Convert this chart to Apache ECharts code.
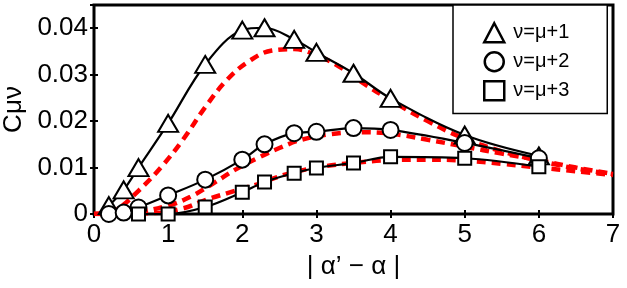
<!DOCTYPE html>
<html>
<head>
<meta charset="utf-8">
<script src="https://cdn.jsdelivr.net/npm/echarts@6/dist/echarts.min.js"></script>
<style>html,body{margin:0;padding:0;background:#fff}#c{width:627px;height:288px}</style>
</head>
<body>
<div id="c"></div>
<script>
// measured points
const xMeas1 = [0.2, 0.4, 0.6, 1.0, 1.5, 2.0, 2.3, 2.7, 3.0, 3.5, 4.0, 5.0, 6.0];
const yMeas1 = [0.0018, 0.0052, 0.0100, 0.0195, 0.0322, 0.0396, 0.0401, 0.0376, 0.0348, 0.0303, 0.0249, 0.0170, 0.0125];
const xMeas2 = [0.2, 0.4, 0.6, 1.0, 1.5, 2.0, 2.3, 2.7, 3.0, 3.5, 4.0, 5.0, 6.0];
const yMeas2 = [0.0000, 0.0003, 0.0014, 0.0040, 0.0074, 0.0117, 0.0150, 0.0174, 0.0177, 0.0185, 0.0181, 0.0153, 0.0120];
const xMeas3 = [0.6, 1.0, 1.5, 2.0, 2.3, 2.7, 3.0, 3.5, 4.0, 5.0, 6.0];
const yMeas3 = [0.0000, 0.0000, 0.0015, 0.0047, 0.0069, 0.0088, 0.0099, 0.0110, 0.0123, 0.0120, 0.0102];
// theory curves (red dashed)
const xTh1 = [0, 0.3, 0.6, 0.9, 1.2, 1.5, 1.8, 2.1, 2.4, 2.7, 3.0, 3.3, 3.6, 4.0, 4.5, 5.0, 5.5, 6.0, 6.5, 7.0];
const yTh1 = [0, 0.0010, 0.0050, 0.0100, 0.0160, 0.0230, 0.0290, 0.0330, 0.0352, 0.0355, 0.0342, 0.0318, 0.0285, 0.0245, 0.0200, 0.0162, 0.0135, 0.0115, 0.0098, 0.0086];
const xTh2 = [0, 0.5, 1.0, 1.3, 1.6, 1.9, 2.2, 2.5, 2.8, 3.2, 3.6, 4.0, 4.5, 5.0, 5.5, 6.0, 6.5, 7.0];
const yTh2 = [0, 0.0003, 0.0018, 0.0037, 0.0065, 0.0095, 0.0120, 0.0142, 0.0160, 0.0172, 0.0176, 0.0173, 0.0160, 0.0145, 0.0130, 0.0116, 0.0100, 0.0086];
const xTh3 = [0, 0.8, 1.2, 1.5, 1.8, 2.2, 2.6, 3.0, 3.5, 4.0, 4.5, 5.0, 5.5, 6.0, 6.5, 7.0];
const yTh3 = [0, 0.0002, 0.0012, 0.0030, 0.0045, 0.0064, 0.0086, 0.0100, 0.0110, 0.0116, 0.0117, 0.0115, 0.0108, 0.0100, 0.0092, 0.0084];
const seriesNames = ['ν=μ+1', 'ν=μ+2', 'ν=μ+3'];
const xTicks = [0, 1, 2, 3, 4, 5, 6, 7];
const yTickLabels = ['0', '0.01', '0.02', '0.03', '0.04'];

const zip = (xs, ys) => xs.map((x, i) => [x, ys[i]]);
const FONT = 'Liberation Sans';
const chart = echarts.init(document.getElementById('c'));
const markStyle = {color: '#fff', borderColor: '#000', borderWidth: 2};
function meas(name, xs, ys, sym, size) {
  return {name, type: 'line', data: zip(xs, ys), smooth: 0.35, symbol: sym, symbolSize: size,
    showAllSymbol: true, lineStyle: {color: '#000', width: 2.2}, itemStyle: markStyle, z: 5};
}
function theory(xs, ys) {
  return {type: 'line', data: zip(xs, ys), smooth: 0.4, symbol: 'none',
    lineStyle: {color: '#ff0000', width: 4.5, type: [9, 6]}, z: 3};
}
const yIdx = v => Math.round(v * 100);
chart.setOption({
  animation: false,
  grid: {left: 94, top: 5, width: 519, height: 209, show: true, borderColor: '#000', borderWidth: 3,
    containLabel: false, outerBoundsMode: 'none'},
  legend: {
    data: seriesNames.map((n, i) => ({name: n, icon: ['triangle', 'circle', 'rect'][i],
      itemStyle: {color: '#fff', borderColor: '#000', borderWidth: 2.5}})),
    orient: 'vertical', left: 453, top: 5, itemWidth: 20, itemHeight: 19, itemGap: 7.5,
    padding: [17, 38, 12, 30], borderColor: '#000', borderWidth: 1.5, backgroundColor: '#fff',
    textStyle: {fontFamily: FONT, fontSize: 20, lineHeight: 19, color: '#000', padding: [0, 0, 0, 4]}
  },
  xAxis: [{
    type: 'value', min: xTicks[0], max: xTicks[xTicks.length - 1], interval: 1,
    name: '| α’ − α |', nameLocation: 'middle', nameGap: 40,
    nameTextStyle: {fontFamily: FONT, fontSize: 26, color: '#000'},
    axisLine: {show: false}, splitLine: {show: false},
    axisTick: {inside: true, length: 4, lineStyle: {color: '#000', width: 2}},
    axisLabel: {fontFamily: FONT, fontSize: 26, color: '#000', margin: 8}
  }, {
    type: 'value', position: 'top', min: 0, max: 7, interval: 1,
    axisLine: {show: false}, splitLine: {show: false}, axisLabel: {show: false},
    axisTick: {inside: true, length: 4, lineStyle: {color: '#000', width: 2}}
  }],
  yAxis: [{
    type: 'value', min: 0, max: 0.045, interval: 0.01,
    name: 'Cμν', nameLocation: 'middle', nameGap: 62, nameRotate: 90,
    nameTextStyle: {fontFamily: FONT, fontSize: 26, color: '#000'},
    axisLine: {show: false}, splitLine: {show: false},
    axisTick: {inside: true, length: 4, lineStyle: {color: '#000', width: 2}},
    axisLabel: {fontFamily: FONT, fontSize: 26, color: '#000', margin: 6, showMaxLabel: false,
      formatter: v => yTickLabels[yIdx(v)] !== undefined ? yTickLabels[yIdx(v)] : ''}
  }, {
    type: 'value', position: 'right', min: 0, max: 0.045, interval: 0.01,
    axisLine: {show: false}, splitLine: {show: false}, axisLabel: {show: false},
    axisTick: {inside: true, length: 4, lineStyle: {color: '#000', width: 2}}
  }],
  series: [
    theory(xTh1, yTh1), theory(xTh2, yTh2), theory(xTh3, yTh3),
    meas(seriesNames[0], xMeas1, yMeas1, 'triangle', [20, 17]),
    meas(seriesNames[1], xMeas2, yMeas2, 'circle', 16),
    meas(seriesNames[2], xMeas3, yMeas3, 'rect', 13)
  ]
});
</script>
</body>
</html>
